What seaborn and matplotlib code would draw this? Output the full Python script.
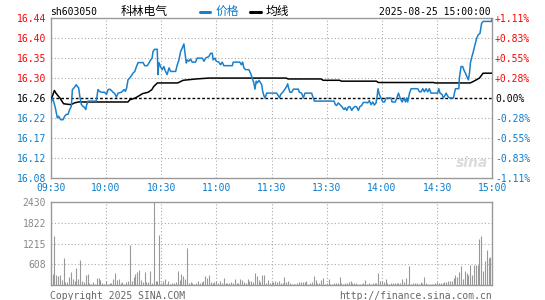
import matplotlib
matplotlib.use('Agg')
import matplotlib.pyplot as plt
from matplotlib.lines import Line2D
import seaborn as sns

# ---------------- data ----------------
price_minutes = [0, 1, 1.8, 2.5, 3.6, 4.3, 5.4, 6.7, 7.6, 8.5, 9.4, 10.3, 11.2, 11.8, 12.7, 13.9, 14.5, 15.2,
                 15.8, 16.7, 17.6, 18.5, 19.0, 19.6, 20.3, 24.8, 25.7, 26.6, 27.5, 29.3, 30.3, 31.2, 32.1,
                 33.0, 33.9, 34.8, 35.7, 36.6, 38.4, 39.9, 40.6, 41.3, 42.0, 42.9, 43.8, 44.7, 45.7, 46.6,
                 47.5, 50.2, 51.1, 52.5, 53.4, 54.3, 55.1, 55.6, 56.5,
                 57.9, 58.3, 58.8, 59.7, 60.6, 61.5, 62.4, 63.3, 64.3, 65.2, 67.9, 68.8, 69.7, 70.6, 71.5,
                 72.4, 73.0, 73.7, 74.2, 75.1, 76.0, 76.9, 78.7, 79.6, 82.4, 83.3, 84.2, 86.0, 86.9, 87.8,
                 88.3, 89.3, 90.0, 91.4, 92.3, 93.2, 94.1, 98.7, 99.2, 102.8, 103.6, 104.3, 105.0, 105.9,
                 107.7, 108.6, 109.5, 110.4, 111.0, 111.7, 112.3, 113.2, 114.1,
                 114.7, 115.2, 115.9, 116.5, 117.4, 122.8, 123.7, 124.3, 125.0, 126.1, 127.3, 128.2, 128.8,
                 129.1, 130.0, 131.0, 131.9, 134.6, 135.1, 136.4, 137.3, 138.2, 141.8, 142.7, 143.3, 154.0,
                 154.7, 155.4, 156.3, 157.2, 158.1, 159.4, 160.1, 160.9, 161.8, 162.7, 163.6, 164.5, 165.4,
                 166.3, 167.2, 168.1, 169.0, 169.9, 171.4,
                 172.3, 173.2, 174.1, 175.0, 175.9, 176.8, 177.4, 177.9, 178.6, 179.5, 180.5, 181.4, 182.3,
                 185.0, 185.5, 187.3, 188.1, 189.0, 189.9, 191.0, 192.2, 192.8, 193.5, 194.0, 195.0, 195.9,
                 199.5, 200.4, 201.3, 202.2, 203.1, 204.0, 204.9, 205.8, 206.7, 210.3, 210.9, 211.6, 212.7,
                 213.4, 214.3, 214.9, 215.8, 216.7, 218.9, 219.4, 220.0, 221.8, 222.1, 223.0, 223.9, 224.5,
                 225.4, 226.1, 227.0, 227.6, 228.1, 228.7,
                 229.7, 230.6, 231.5, 232.4, 233.3, 234.2, 235.1, 239.6, 240.0]
price_values = [16.249, 16.26, 16.249, 16.238, 16.215, 16.219, 16.211, 16.211, 16.219, 16.223, 16.223, 16.234,
                16.241, 16.279, 16.283, 16.29, 16.286, 16.283, 16.264, 16.245, 16.241, 16.238, 16.234, 16.245,
                16.253, 16.253, 16.279, 16.275, 16.273, 16.273, 16.268, 16.279, 16.28, 16.277, 16.273, 16.27,
                16.262, 16.271, 16.273, 16.279, 16.275, 16.283, 16.301, 16.305, 16.31, 16.316, 16.32, 16.331,
                16.34, 16.34, 16.333, 16.333, 16.339, 16.346, 16.35, 16.365, 16.37,
                16.37, 16.313, 16.34, 16.331, 16.324, 16.331, 16.32, 16.313, 16.328, 16.32, 16.32, 16.335,
                16.346, 16.365, 16.373, 16.382, 16.361, 16.339, 16.346, 16.343, 16.348, 16.341, 16.341, 16.35,
                16.35, 16.343, 16.35, 16.354, 16.361, 16.361, 16.346, 16.35, 16.343, 16.341, 16.335, 16.341,
                16.333, 16.333, 16.341, 16.341, 16.335, 16.341, 16.328, 16.324, 16.324, 16.316, 16.305, 16.294,
                16.28, 16.298, 16.294, 16.3, 16.294,
                16.29, 16.275, 16.265, 16.26, 16.271, 16.271, 16.265, 16.26, 16.268, 16.273, 16.28, 16.286,
                16.292, 16.286, 16.273, 16.273, 16.28, 16.28, 16.273, 16.271, 16.26, 16.271, 16.271, 16.26,
                16.253, 16.253, 16.245, 16.243, 16.249, 16.245, 16.241, 16.234, 16.238, 16.232, 16.24, 16.24,
                16.232, 16.238, 16.241, 16.24, 16.232, 16.241, 16.243, 16.25, 16.25,
                16.249, 16.254, 16.245, 16.251, 16.244, 16.249, 16.264, 16.281, 16.268, 16.26, 16.251, 16.251,
                16.26, 16.26, 16.251, 16.251, 16.26, 16.271, 16.26, 16.251, 16.26, 16.251, 16.26, 16.251,
                16.271, 16.281, 16.281, 16.274, 16.274, 16.281, 16.274, 16.281, 16.274, 16.281, 16.271, 16.271,
                16.281, 16.271, 16.268, 16.26, 16.266, 16.271, 16.264, 16.26, 16.26, 16.271, 16.281, 16.281,
                16.305, 16.331, 16.331, 16.324, 16.316, 16.309, 16.301, 16.316, 16.339, 16.35,
                16.365, 16.38, 16.395, 16.403, 16.406, 16.429, 16.433, 16.433, 16.44]

avg_minutes = [0, 2, 3, 5, 7, 11, 13, 15, 42, 43, 46, 48, 50, 53, 55, 56, 58, 69, 70, 72, 79, 86, 128, 129,
               147, 148, 157, 158, 177, 178, 208, 209, 228, 230, 233, 235, 240]
avg_values = [16.253, 16.277, 16.270, 16.260, 16.247, 16.245, 16.249, 16.251, 16.251, 16.256, 16.260, 16.265,
              16.270, 16.273, 16.279, 16.286, 16.294, 16.294, 16.296, 16.300, 16.303, 16.305, 16.305, 16.303,
              16.303, 16.300, 16.300, 16.298, 16.298, 16.295, 16.295, 16.294, 16.294, 16.298, 16.305, 16.316,
              16.316]

volume = [106, 330, 1430, 290, 270, 290, 155, 790, 95, 95,
          240, 390, 185, 135, 500, 185, 735, 115, 95, 290,
          330, 60, 40, 90, 30, 220, 210, 145, 60, 30,
          125, 40, 60, 80, 190, 350, 155, 190, 60, 105,
          30, 90, 135, 1170, 115, 230, 330, 400, 445, 155,
          90, 390, 95, 90, 420, 80, 2430, 125, 125, 1470,
          80, 115, 185, 40, 125, 40, 60, 60, 95, 420,
          155, 330, 270, 185, 1080, 60, 95, 60, 40, 60,
          125, 60, 95, 125, 270, 210, 300, 95, 80, 105,
          125, 80, 115, 60, 210, 80, 80, 60, 95, 60,
          185, 60, 60, 185, 155, 95, 60, 185, 115, 125,
          85, 360, 280, 145, 105, 300, 300, 60, 155, 60,
          95, 95, 125, 95, 125, 80, 60, 230, 95, 125,
          80, 40, 30, 40, 80, 85, 85, 85, 85, 125,
          40, 60, 105, 270, 155, 80, 80, 155, 220, 30,
          80, 175, 40, 40, 60, 60, 80, 230, 60, 40,
          80, 60, 85, 125, 80, 60, 60, 30, 40, 40,
          60, 155, 40, 60, 30, 80, 60, 80, 350, 125,
          125, 95, 185, 60, 40, 60, 60, 80, 80, 80,
          60, 185, 105, 210, 40, 560, 40, 60, 60, 80,
          40, 105, 60, 230, 60, 40, 40, 40, 30, 60,
          95, 60, 60, 80, 85, 105, 135, 125, 125, 200,
          300, 230, 390, 560, 185, 425, 350, 300, 590, 300,
          600, 600, 600, 1360, 1430, 420, 700, 1040, 780, 820, 0]
volume_minutes = list(range(len(volume)))

tick_minutes = [0, 30, 60, 90, 120, 150, 180, 210, 240]
time_labels = ['09:30', '10:00', '10:30', '11:00', '11:30', '13:30', '14:00', '14:30', '15:00']
prev_close = 16.26
price_ticks = [16.08, 16.125, 16.17, 16.215, 16.26, 16.305, 16.35, 16.395, 16.44]
price_labels = ['16.08', '16.12', '16.17', '16.22', '16.26', '16.30', '16.35', '16.40', '16.44']
pct_labels = ['-1.11%', '-0.83%', '-0.55%', '-0.28%', '0.00%', '+0.28%', '+0.55%', '+0.83%', '+1.11%']
vol_ticks = [608, 1215, 1822, 2430]
vol_labels = ['608', '1215', '1822', '2430']

code = 'sh603050'
name = '科林电气'
legend_price = '价格'
legend_avg = '均线'
stamp = '2025-08-25 15:00:00'
copyright_text = 'Copyright 2025 SINA.COM'
url_text = 'http://finance.sina.com.cn'

# ---------------- style ----------------
sns.set_theme(style='white')
plt.rcParams['font.family'] = ['DejaVu Sans Mono', 'Noto Sans CJK SC']
plt.rcParams['font.size'] = 7

BLUE = '#1A80CC'
LBLUE = '#0A7DCC'
RED = '#FF0000'
GRID = '#aaaaaa'
BORDER = '#999999'

W, H = 545, 300
fig = plt.figure(figsize=(W / 100, H / 100), dpi=100)
fig.patch.set_facecolor('white')

def fx(px):
    return px / W

def fy(py):
    return 1 - py / H

L, R = 50.7, 492.3
ax = fig.add_axes([fx(L), fy(177.7), (R - L) / W, (177.7 - 18.3) / H])
axv = fig.add_axes([fx(L), fy(285.3), (R - L) / W, (285.3 - 201.7) / H])

for a in (ax, axv):
    a.set_facecolor('white')
    for s in a.spines.values():
        s.set_color(BORDER)
        s.set_linewidth(1.0)
    a.set_xlim(tick_minutes[0], tick_minutes[-1])
    for t in tick_minutes[1:-1]:
        a.axvline(t, color=GRID, lw=0.8, ls=(0, (1, 2)), zorder=1)

# ---- price panel ----
ax.set_ylim(price_ticks[0], price_ticks[-1])
for p in price_ticks[1:-1]:
    if p != prev_close:
        ax.axhline(p, color=GRID, lw=0.8, ls=(0, (1, 2)), zorder=1)
ax.axhline(prev_close, color='black', lw=1.0, ls=(0, (2, 1.5)), zorder=2)

sns.lineplot(x=avg_minutes, y=avg_values, ax=ax, color='black', lw=1.1, estimator=None, sort=False, zorder=3)
sns.lineplot(x=price_minutes, y=price_values, ax=ax, color=BLUE, lw=1.1, estimator=None, sort=False, zorder=4)

ax.set_xticks(tick_minutes)
ax.set_xticklabels(time_labels)
ax.tick_params(axis='x', length=0, pad=3.5, labelcolor=LBLUE, labelsize=7)
ax.set_yticks(price_ticks)
ax.set_yticklabels(price_labels)
ax.tick_params(axis='y', length=0, pad=3.4, labelsize=7)

def tick_color(p):
    if abs(p - prev_close) < 1e-9:
        return 'black'
    return RED if p > prev_close else LBLUE

for lab, p in zip(ax.get_yticklabels(), price_ticks):
    lab.set_color(tick_color(p))

axr = ax.twinx()
axr.set_ylim(ax.get_ylim())
axr.set_yticks(price_ticks)
axr.set_yticklabels(pct_labels)
axr.tick_params(axis='y', length=0, pad=2.0, labelsize=7)
for s in axr.spines.values():
    s.set_visible(False)
for lab, p in zip(axr.get_yticklabels(), price_ticks):
    lab.set_color(tick_color(p))
ax.set_xlabel('')
ax.set_ylabel('')
axr.set_ylabel('')

ax.text(0.953, 0.095, 'sina', transform=ax.transAxes, ha='center', va='center',
        fontsize=10, fontstyle='italic', fontweight='bold', color='#dcdcdc',
        family='DejaVu Sans', zorder=0)

# ---- volume panel ----
axv.set_ylim(0, vol_ticks[-1])
for v in vol_ticks[:-1]:
    axv.axhline(v, color=GRID, lw=0.8, ls=(0, (1, 2)), zorder=1)
axv.vlines(volume_minutes, 0, volume, color='#999999', lw=0.8, zorder=2)
axv.set_xticks([])
axv.set_yticks(vol_ticks)
axv.set_yticklabels(vol_labels)
axv.tick_params(axis='y', length=0, pad=3.4, labelsize=7, labelcolor='#888888')

# ---- header ----
hy = fy(11.6)
fig.text(fx(50.4), hy, code, ha='left', va='center', fontsize=7, color='black')
fig.text(fx(121), hy, name, ha='left', va='center', fontsize=8.5, color='black',
         family=['Noto Sans CJK SC', 'DejaVu Sans'])
fig.add_artist(Line2D([fx(200), fx(210)], [fy(11.6), fy(11.6)], color=BLUE, lw=2.2,
                      transform=fig.transFigure))
fig.text(fx(216), hy, legend_price, ha='left', va='center', fontsize=8.5, color=LBLUE,
         family=['Noto Sans CJK SC', 'DejaVu Sans'])
fig.add_artist(Line2D([fx(250), fx(261)], [fy(11.6), fy(11.6)], color='black', lw=2.2,
                      transform=fig.transFigure))
fig.text(fx(266), hy, legend_avg, ha='left', va='center', fontsize=8.5, color='black',
         family=['Noto Sans CJK SC', 'DejaVu Sans'])
fig.text(fx(491), hy, stamp, ha='right', va='center', fontsize=7, color='black')

# ---- footer ----
fig.text(fx(49.7), fy(296), copyright_text, ha='left', va='center', fontsize=7, color='#666666')
fig.text(fx(491.5), fy(296), url_text, ha='right', va='center', fontsize=7, color='#666666')

fig.savefig('out.png', dpi=100, facecolor='white')
